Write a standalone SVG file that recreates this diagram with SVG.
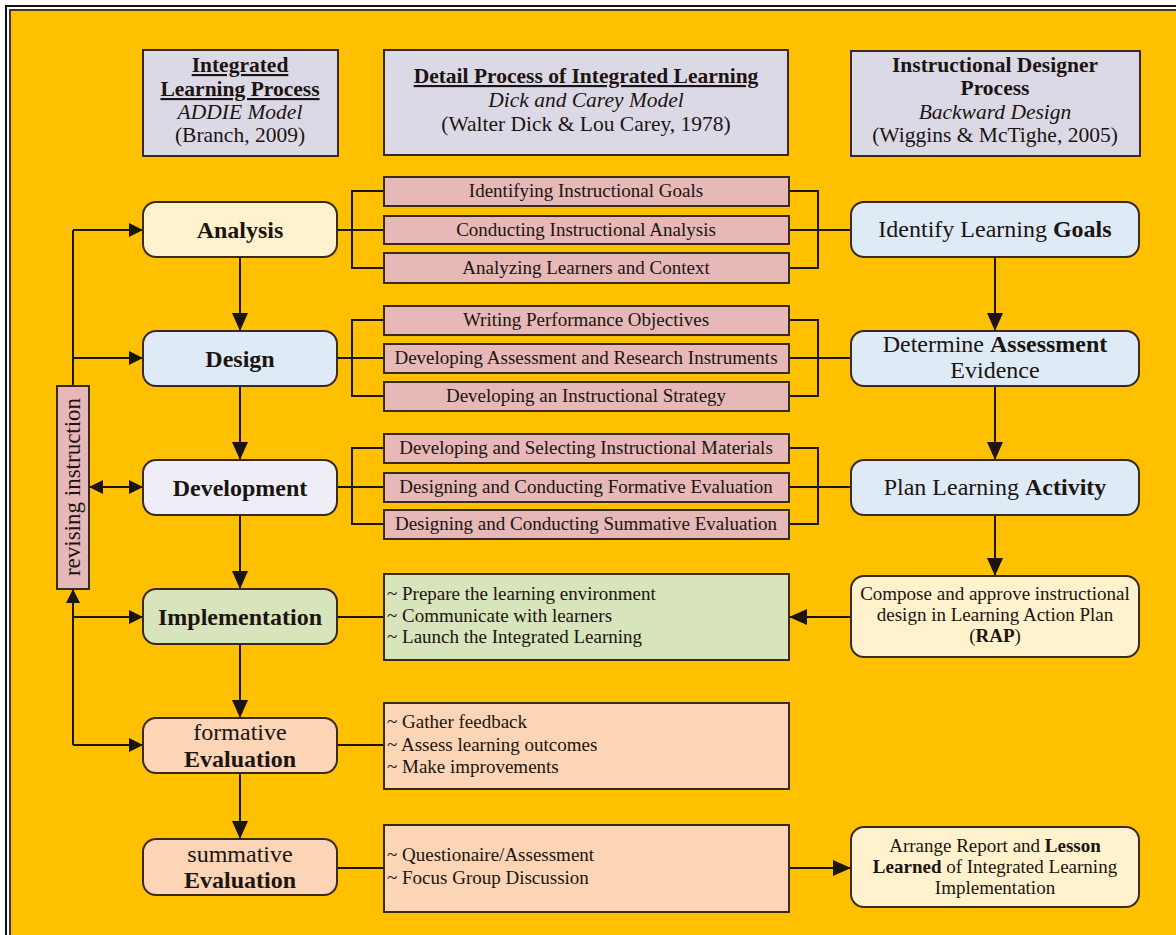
<svg xmlns="http://www.w3.org/2000/svg" width="1176" height="935" viewBox="0 0 1176 935">
<defs>
<style>
text{font-family:"Liberation Serif","Times New Roman",serif;fill:#1c1410}
.hd{font-size:21.5px;text-anchor:middle}
.b{font-weight:bold}
.i{font-style:italic}
.u{text-decoration:underline}
.hbox{fill:#DCD9E7;stroke:#3a2a1a;stroke-width:2}
.pink{fill:#E6B8B7;stroke:#3a2a1a;stroke-width:2}
.node{stroke:#3a2a1a;stroke-width:2}
.nt{font-size:24px;text-anchor:middle}
.pt{font-size:19px;text-anchor:middle}
.bl{font-size:19px}
.cn{fill:none;stroke:#1c1410;stroke-width:2}
</style>
<marker id="ah" viewBox="0 0 14 14" refX="14" refY="7" markerWidth="14" markerHeight="14" markerUnits="userSpaceOnUse" orient="auto-start-reverse">
<path d="M0,0 L14,7 L0,14 z" fill="#1c1410"/>
</marker>
<marker id="ahL" viewBox="0 0 18 16" refX="18" refY="8" markerWidth="18" markerHeight="16" markerUnits="userSpaceOnUse" orient="auto">
<path d="M0,0 L18,8 L0,16 z" fill="#1c1410"/>
</marker>
</defs>
<rect x="0" y="0" width="1176" height="935" fill="#ffffff"/>
<rect x="6" y="6" width="1180" height="940" fill="none" stroke="#111" stroke-width="2"/>
<rect x="10" y="10" width="1176" height="935" fill="#FFC000" stroke="#4a3520" stroke-width="2"/>

<g id="header-addie">
<rect class="hbox" x="143" y="50" width="195" height="106"/>
<text class="hd b u" x="240" y="72">Integrated</text>
<text class="hd b u" x="240" y="96">Learning Process</text>
<text class="hd i" x="240" y="119">ADDIE Model</text>
<text class="hd" x="240" y="142">(Branch, 2009)</text>
</g>
<g id="header-dick">
<rect class="hbox" x="384" y="50" width="404" height="105"/>
<text class="hd b u" x="586" y="83">Detail Process of Integrated Learning</text>
<text class="hd i" x="586" y="107">Dick and Carey Model</text>
<text class="hd" x="586" y="131">(Walter Dick &amp; Lou Carey, 1978)</text>
</g>
<g id="header-backward">
<rect class="hbox" x="851" y="51" width="289" height="105"/>
<text class="hd b" x="995" y="72">Instructional Designer</text>
<text class="hd b" x="995" y="95">Process</text>
<text class="hd i" x="995" y="119">Backward Design</text>
<text class="hd" x="995" y="142">(Wiggins &amp; McTighe, 2005)</text>
</g>

<g id="connectors">
<!-- ADDIE vertical flow -->
<line class="cn" x1="240" y1="257" x2="240" y2="331" marker-end="url(#ahL)"/>
<line class="cn" x1="240" y1="386" x2="240" y2="460" marker-end="url(#ahL)"/>
<line class="cn" x1="240" y1="515" x2="240" y2="589" marker-end="url(#ahL)"/>
<line class="cn" x1="240" y1="644" x2="240" y2="718" marker-end="url(#ahL)"/>
<line class="cn" x1="240" y1="773" x2="240" y2="839" marker-end="url(#ahL)"/>
<!-- Backward design flow -->
<line class="cn" x1="995" y1="257" x2="995" y2="331" marker-end="url(#ahL)"/>
<line class="cn" x1="995" y1="386" x2="995" y2="460" marker-end="url(#ahL)"/>
<line class="cn" x1="995" y1="515" x2="995" y2="576" marker-end="url(#ahL)"/>
<line class="cn" x1="851" y1="617" x2="789" y2="617" marker-end="url(#ahL)"/>
<line class="cn" x1="789" y1="868" x2="851" y2="868" marker-end="url(#ahL)"/>
<!-- revising loop -->
<polyline class="cn" points="73,386 73,230"/>
<line class="cn" x1="73" y1="230" x2="143" y2="230" marker-end="url(#ah)"/>
<line class="cn" x1="73" y1="358" x2="143" y2="358" marker-end="url(#ah)"/>
<line class="cn" x1="73" y1="745" x2="73" y2="589" marker-end="url(#ah)"/>
<line class="cn" x1="73" y1="617" x2="143" y2="617" marker-end="url(#ah)"/>
<line class="cn" x1="73" y1="745" x2="143" y2="745" marker-end="url(#ah)"/>
<line class="cn" x1="89" y1="487" x2="143" y2="487" marker-start="url(#ah)" marker-end="url(#ah)"/>
<!-- Analysis bracket -->
<path class="cn" d="M337,230 H384 M384,191 H352 V268 H384 M789,191 H818 V268 H789 M789,230 H851"/>
<!-- Design bracket -->
<path class="cn" d="M337,358 H384 M384,320 H352 V396 H384 M789,320 H818 V396 H789 M789,358 H851"/>
<!-- Development bracket -->
<path class="cn" d="M337,487 H384 M384,448 H352 V524 H384 M789,448 H818 V524 H789 M789,487 H851"/>
<!-- detail boxes -->
<line class="cn" x1="337" y1="617" x2="384" y2="617"/>
<line class="cn" x1="337" y1="745" x2="384" y2="745"/>
<line class="cn" x1="337" y1="868" x2="384" y2="868"/>
</g>

<g id="revising">
<rect class="pink" x="57" y="386" width="32" height="203"/>
<text x="73" y="494" font-size="23" text-anchor="middle" transform="rotate(-90 73 487)">revising instruction</text>
</g>

<g id="analysis">
<rect class="node" x="143" y="202" width="194" height="55" rx="13" fill="#FFF2CC"/>
<text class="nt b" x="240" y="238">Analysis</text>
</g>
<g id="design">
<rect class="node" x="143" y="331" width="194" height="55" rx="13" fill="#DEEBF7"/>
<text class="nt b" x="240" y="367">Design</text>
</g>
<g id="development">
<rect class="node" x="143" y="460" width="194" height="55" rx="13" fill="#EFEEF6"/>
<text class="nt b" x="240" y="496">Development</text>
</g>
<g id="implementation">
<rect class="node" x="143" y="589" width="194" height="55" rx="13" fill="#D8E4BC"/>
<text class="nt b" x="240" y="625">Implementation</text>
</g>
<g id="formative">
<rect class="node" x="143" y="718" width="194" height="55" rx="13" fill="#FBD5B5"/>
<text class="nt" x="240" y="740">formative</text>
<text class="nt b" x="240" y="767">Evaluation</text>
</g>
<g id="summative">
<rect class="node" x="143" y="839" width="194" height="56" rx="13" fill="#FBD5B5"/>
<text class="nt" x="240" y="862">summative</text>
<text class="nt b" x="240" y="888">Evaluation</text>
</g>

<g id="dc-goals"><rect class="pink" x="384" y="177" width="405" height="29"/><text class="pt" x="586" y="197">Identifying Instructional Goals</text></g>
<g id="dc-analysis"><rect class="pink" x="384" y="216" width="405" height="28"/><text class="pt" x="586" y="236">Conducting Instructional Analysis</text></g>
<g id="dc-learners"><rect class="pink" x="384" y="253" width="405" height="30"/><text class="pt" x="586" y="274">Analyzing Learners and Context</text></g>
<g id="dc-objectives"><rect class="pink" x="384" y="306" width="405" height="29"/><text class="pt" x="586" y="326">Writing Performance Objectives</text></g>
<g id="dc-assessment"><rect class="pink" x="384" y="344" width="405" height="29"/><text class="pt" x="586" y="364">Developing Assessment and Research Instruments</text></g>
<g id="dc-strategy"><rect class="pink" x="384" y="382" width="405" height="29"/><text class="pt" x="586" y="402">Developing an Instructional Strategy</text></g>
<g id="dc-materials"><rect class="pink" x="384" y="434" width="405" height="29"/><text class="pt" x="586" y="454">Developing and Selecting Instructional Materials</text></g>
<g id="dc-formative"><rect class="pink" x="384" y="473" width="405" height="29"/><text class="pt" x="586" y="493">Designing and Conducting Formative Evaluation</text></g>
<g id="dc-summative"><rect class="pink" x="384" y="510" width="405" height="29"/><text class="pt" x="586" y="530">Designing and Conducting Summative Evaluation</text></g>

<g id="impl-details">
<rect class="node" x="384" y="574" width="405" height="86" fill="#D8E4BC"/>
<text class="bl" x="387" y="600">~ Prepare the learning environment</text>
<text class="bl" x="387" y="622">~ Communicate with learners</text>
<text class="bl" x="387" y="643">~ Launch the Integrated Learning</text>
</g>
<g id="formative-details">
<rect class="node" x="384" y="703" width="405" height="86" fill="#FBD5B5"/>
<text class="bl" x="387" y="728">~ Gather feedback</text>
<text class="bl" x="387" y="751">~ Assess learning outcomes</text>
<text class="bl" x="387" y="773">~ Make improvements</text>
</g>
<g id="summative-details">
<rect class="node" x="384" y="825" width="405" height="87" fill="#FBD5B5"/>
<text class="bl" x="387" y="861">~ Questionaire/Assessment</text>
<text class="bl" x="387" y="884">~ Focus Group Discussion</text>
</g>

<g id="bd-goals">
<rect class="node" x="851" y="202" width="288" height="55" rx="13" fill="#DEEBF7"/>
<text class="nt" x="995" y="237">Identify Learning <tspan class="b">Goals</tspan></text>
</g>
<g id="bd-assessment">
<rect class="node" x="851" y="331" width="288" height="55" rx="13" fill="#DEEBF7"/>
<text class="nt" x="995" y="352">Determine <tspan class="b">Assessment</tspan></text>
<text class="nt" x="995" y="378">Evidence</text>
</g>
<g id="bd-activity">
<rect class="node" x="851" y="460" width="288" height="55" rx="13" fill="#DEEBF7"/>
<text class="nt" x="995" y="495">Plan Learning <tspan class="b">Activity</tspan></text>
</g>
<g id="bd-rap">
<rect class="node" x="851" y="576" width="288" height="81" rx="13" fill="#FFF2CC"/>
<text class="pt" x="995" y="600">Compose and approve instructional</text>
<text class="pt" x="995" y="621">design in Learning Action Plan</text>
<text class="pt" x="995" y="642">(<tspan class="b">RAP</tspan>)</text>
</g>
<g id="bd-report">
<rect class="node" x="851" y="827" width="288" height="80" rx="13" fill="#FFF2CC"/>
<text class="pt" x="995" y="852">Arrange Report and <tspan class="b">Lesson</tspan></text>
<text class="pt" x="995" y="873"><tspan class="b">Learned</tspan> of Integrated Learning</text>
<text class="pt" x="995" y="894">Implementation</text>
</g>
</svg>
